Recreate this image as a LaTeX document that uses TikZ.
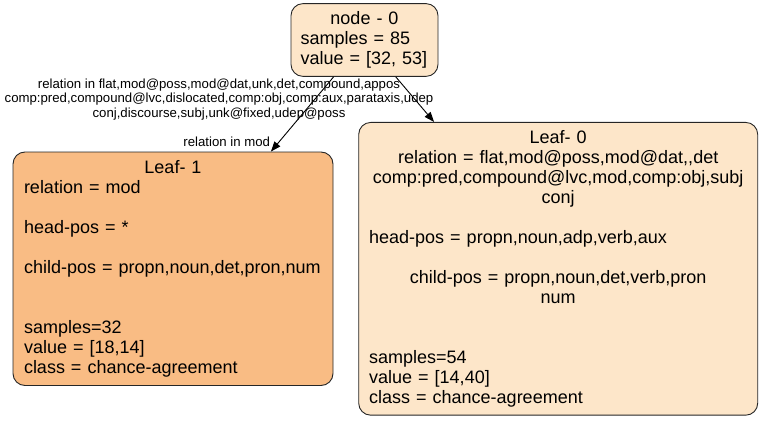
\documentclass[tikz,border=0pt]{standalone}
\usepackage{fontspec}
\setmainfont{Liberation Sans}
\usetikzlibrary{arrows.meta}

\definecolor{paleorange}{HTML}{FDE6C9}
\definecolor{midorange}{HTML}{F9BC84}

\newcommand{\centred}[1]{\makebox[\linewidth]{#1}}

\tikzset{
  every path/.style={line width=0.9pt},
  treebox/.style={draw=black!85, rounded corners=12pt, align=left,
    inner xsep=10pt, inner ysep=8pt,
    font=\fontsize{18}{20}\selectfont},
  edge/.style={-{Triangle[length=10pt,width=7.5pt]}},
  edgetext/.style={font=\fontsize{13.2}{14.5}\selectfont, align=center, inner sep=0pt}
}

\begin{document}
\begin{tikzpicture}[x=1pt, y=-1pt]
    \useasboundingbox (0,0) rectangle (759,425);

    \node[treebox, fill=paleorange, text width=128pt, inner xsep=9.5pt, minimum height=70pt] (root) at (364.5,40)
      {\centred{node - 0}\\samples = 85\\value = [32, 53]};

    \node[treebox, fill=midorange, text width=298pt, inner xsep=11pt, minimum height=233.5pt] (leafone) at (173,268.75)
      {\centred{Leaf- 1}\\relation = mod\\[20pt]head-pos = *\\[20pt]child-pos = propn,noun,det,pron,num\\[40pt]samples=32\\value = [18,14]\\class = chance-agreement};

    \node[treebox, fill=paleorange, text width=378pt, inner xsep=10.5pt, minimum height=292.4pt] (leafzero) at (558.2,268.8)
      {\centred{Leaf- 0}\\\centred{relation = flat,mod@poss,mod@dat,{},det}\\\centred{comp:pred,compound@lvc,mod,comp:obj,subj}\\\centred{conj}\\[20pt]head-pos = propn,noun,adp,verb,aux\\[20pt]\centred{child-pos = propn,noun,det,verb,pron}\\\centred{num}\\[40pt]samples=54\\value = [14,40]\\class = chance-agreement};

    \draw[edge] (root) -- (leafone)
      node[edgetext, at end, anchor=south east, xshift=-0.5pt, yshift=4pt] (headtext) {relation in mod};
    \draw[edge] (root) -- (leafzero);

    \node[edgetext] (splittext) at (219,99.5)
      {relation in flat,mod@poss,mod@dat,unk,det,compound,appos\\comp:pred,compound@lvc,dislocated,comp:obj,comp:aux,parataxis,udep\\conj,discourse,subj,unk@fixed,udep@poss};
\end{tikzpicture}
\end{document}
